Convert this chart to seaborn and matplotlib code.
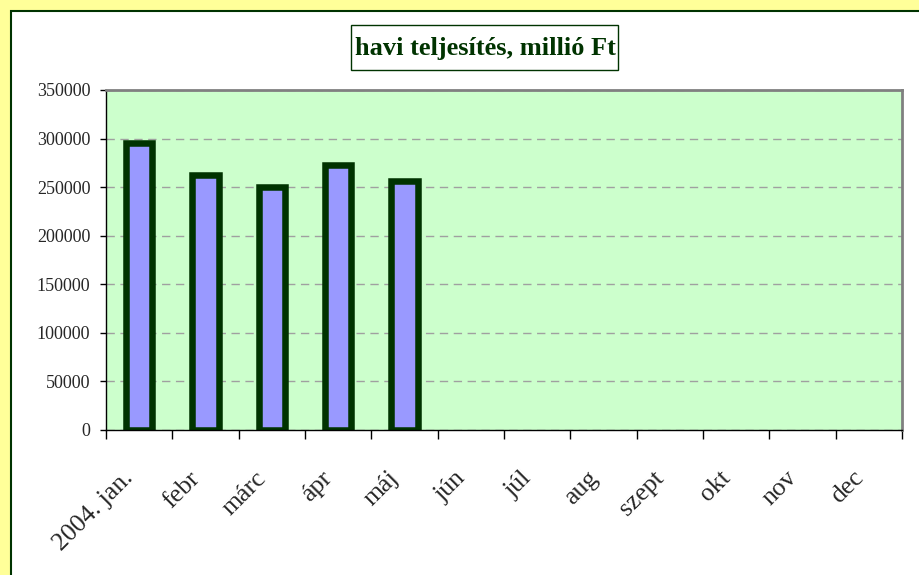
import pandas as pd
import matplotlib.pyplot as plt
import seaborn as sns
from matplotlib.patches import Rectangle
from matplotlib.transforms import ScaledTranslation

months = ['2004. jan.', 'febr', 'márc', 'ápr', 'máj', 'jún', 'júl', 'aug',
          'szept', 'okt', 'nov', 'dec']
done_months = ['2004. jan.', 'febr', 'márc', 'ápr', 'máj']
values = [295000, 263000, 250000, 273000, 256000]
yticks = [0, 50000, 100000, 150000, 200000, 250000, 300000, 350000]

df = pd.DataFrame({'honap': done_months, 'ertek': values})

sns.set_style('white')
plt.rcParams['font.family'] = ['Liberation Serif', 'DejaVu Serif']

W, H = 919, 575
fig = plt.figure(figsize=(W / 100, H / 100), dpi=100, facecolor='#FFFF99')

# white panel with dark green frame
fig.add_artist(Rectangle((10.5 / W, -0.1), 1.2, (H - 10.5) / H + 0.1,
                         transform=fig.transFigure, facecolor='white',
                         edgecolor='#003300', linewidth=1.5, zorder=0))

ax = fig.add_axes([106 / W, 1 - 430 / H, (902 - 106) / W, (430 - 90) / H])
ax.set_facecolor('#CCFFCC')

sns.barplot(data=df, x='honap', y='ertek', order=months, color='#9999FF',
            saturation=1, edgecolor='#003300', linewidth=4.7, width=0.4,
            errorbar=None, ax=ax)

ax.set_xlim(-0.5, 11.5)
ax.set_ylim(0, 350000)
ax.set_yticks(yticks)
ax.set_yticklabels([str(v) for v in yticks], fontsize=13)
ax.yaxis.grid(True, color='#A0A0A0', linestyle=(0, (6, 4)), linewidth=1)
ax.set_axisbelow(True)

ax.set_xticks(range(len(months)))
ax.set_xticklabels(months, fontsize=18.5, rotation=45, ha='right', va='center',
                   rotation_mode='anchor')
ax.set_xticks([i - 0.5 for i in range(len(months) + 1)], minor=True)
ax.tick_params(axis='x', which='major', length=0, pad=33)
ax.tick_params(axis='x', which='minor', length=6.5, width=1, color='black',
               direction='out', bottom=True)
ax.tick_params(axis='y', length=4.3, width=1, color='black', direction='out',
               left=True, pad=7)

# nudge the rotated labels a little to the left (after tick_params)
shift = ScaledTranslation(-0.09, 0.01, fig.dpi_scale_trans)
for tick in ax.xaxis.get_major_ticks():
    tick.label1.set_transform(tick.label1.get_transform() + shift)

ax.set_xlabel('')
ax.set_ylabel('')
for side in ['left', 'bottom']:
    ax.spines[side].set_color('black')
    ax.spines[side].set_linewidth(1)
for side in ['top', 'right']:
    ax.spines[side].set_color('#808080')
    ax.spines[side].set_linewidth(2)

# title box
fig.add_artist(Rectangle((351 / W, 1 - 70 / H), (618 - 351) / W, 45 / H,
                         transform=fig.transFigure, facecolor='white',
                         edgecolor='#003300', linewidth=1, zorder=1))
fig.text(485 / W, 1 - 48 / H, 'havi teljesítés, millió Ft', fontsize=19,
         fontweight='bold', color='#003300', ha='center', va='center',
         zorder=2)

fig.savefig('out.png', dpi=100, facecolor=fig.get_facecolor())
